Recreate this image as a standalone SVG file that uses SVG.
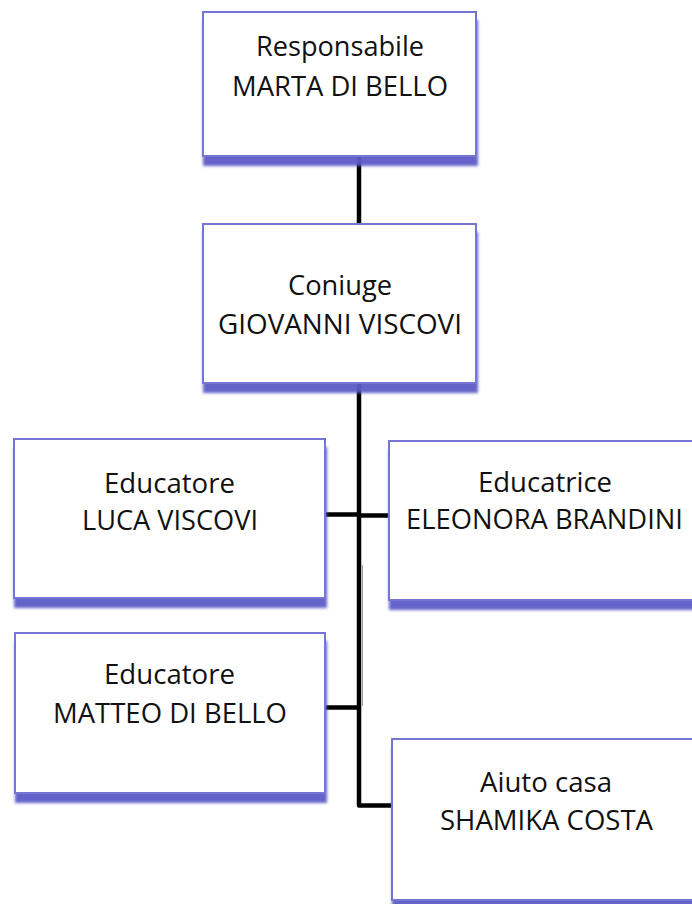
<svg xmlns="http://www.w3.org/2000/svg" width="692" height="904" viewBox="0 0 692 904">
<defs>
<filter id="sh" x="-10%" y="-10%" width="125%" height="130%">
<feDropShadow dx="1" dy="9" stdDeviation="1.8" flood-color="#5a5ac6" flood-opacity="0.95"/>
</filter>
</defs>
<style>
.box{fill:#ffffff;stroke:#7474d6;stroke-width:2;filter:url(#sh)}
.t{font-family:"Open Sans","Liberation Sans",sans-serif;font-size:27px;fill:#111111;text-anchor:middle}
.c{fill:none;stroke:#000000;stroke-width:4.5;stroke-linejoin:round}
</style>
<rect width="692" height="904" fill="#ffffff"/>
<g id="connectors">
<path class="c" d="M359 156 V224"/>
<path class="c" d="M359 383 V805.5 H393"/>
<path class="c" d="M325 514.5 H359"/>
<path class="c" d="M359 515.5 H390"/>
<path class="c" d="M325 707.5 H359"/>
<path d="M362.5 565 V706" fill="none" stroke="#9a9a9a" stroke-width="1"/>
</g>
<g id="node-responsabile">
<rect class="box" x="203" y="12" width="273" height="144"/>
<text class="t" x="340" y="56" textLength="168" lengthAdjust="spacingAndGlyphs">Responsabile</text>
<text class="t" x="340" y="96" textLength="216" lengthAdjust="spacingAndGlyphs">MARTA DI BELLO</text>
</g>
<g id="node-coniuge">
<rect class="box" x="203" y="224" width="273" height="159"/>
<text class="t" x="340" y="295" textLength="104" lengthAdjust="spacingAndGlyphs">Coniuge</text>
<text class="t" x="340" y="334" textLength="244" lengthAdjust="spacingAndGlyphs">GIOVANNI VISCOVI</text>
</g>
<g id="node-luca">
<rect class="box" x="14" y="439" width="311" height="159"/>
<text class="t" x="169.5" y="493" textLength="131" lengthAdjust="spacingAndGlyphs">Educatore</text>
<text class="t" x="170" y="530" textLength="176" lengthAdjust="spacingAndGlyphs">LUCA VISCOVI</text>
</g>
<g id="node-eleonora">
<rect class="box" x="389" y="441" width="312" height="159"/>
<text class="t" x="545" y="492" textLength="134" lengthAdjust="spacingAndGlyphs">Educatrice</text>
<text class="t" x="544.5" y="529" textLength="277" lengthAdjust="spacingAndGlyphs">ELEONORA BRANDINI</text>
</g>
<g id="node-matteo">
<rect class="box" x="15" y="633" width="310" height="160"/>
<text class="t" x="169.5" y="684" textLength="131" lengthAdjust="spacingAndGlyphs">Educatore</text>
<text class="t" x="170" y="723" textLength="234" lengthAdjust="spacingAndGlyphs">MATTEO DI BELLO</text>
</g>
<g id="node-shamika">
<rect class="box" x="392" y="739" width="310" height="161"/>
<text class="t" x="546" y="792" textLength="132" lengthAdjust="spacingAndGlyphs">Aiuto casa</text>
<text class="t" x="546.5" y="830" textLength="213" lengthAdjust="spacingAndGlyphs">SHAMIKA COSTA</text>
</g>
</svg>
